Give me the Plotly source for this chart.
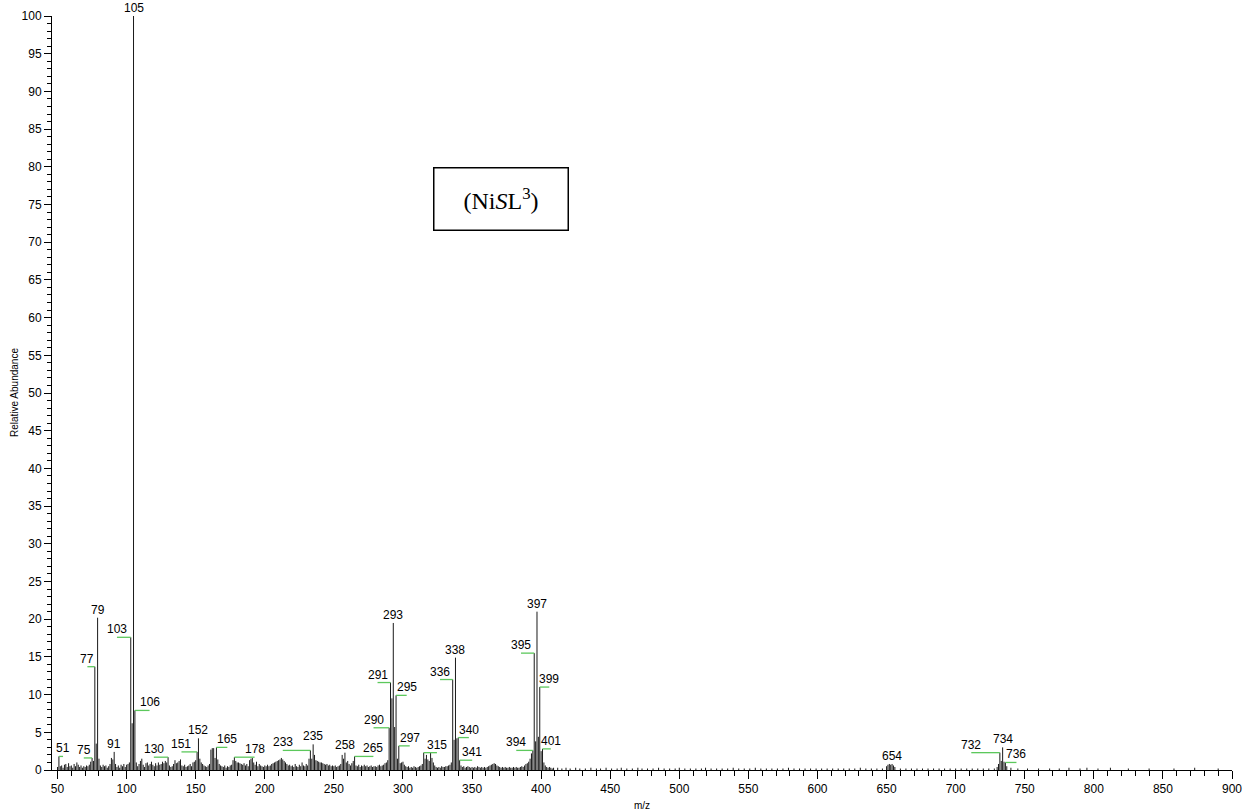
import plotly.graph_objects as go

# ---- spectrum data: m/z and relative abundance (%) ----
mz_low = [
    50, 51, 52, 53, 54, 55, 56, 57, 58, 59,
    60, 61, 62, 63, 64, 65, 66, 67, 68, 69,
    70, 71, 72, 73, 74, 75, 76, 77, 78, 79,
    80, 81, 82, 83, 84, 85, 86, 87, 88, 89,
    90, 91, 92, 93, 94, 95, 96, 97, 98, 99,
    100, 101, 102, 103, 104, 105, 106, 107, 108, 109,
    110, 111, 112, 113, 114, 115, 116, 117, 118, 119,
    120, 121, 122, 123, 124, 125, 126, 127, 128, 129,
    130, 131, 132, 133, 134, 135, 136, 137, 138, 139,
    140, 141, 142, 143, 144, 145, 146, 147, 148, 149,
    150, 151, 152, 153, 154, 155, 156, 157, 158, 159,
    160, 161, 162, 163, 164, 165, 166, 167, 168, 169,
    170, 171, 172, 173, 174, 175, 176, 177, 178, 179,
    180, 181, 182, 183, 184, 185, 186, 187, 188, 189,
    190, 191, 192, 193, 194, 195, 196, 197, 198, 199,
    200, 201, 202, 203, 204, 205, 206, 207, 208, 209,
    210, 211, 212, 213, 214, 215, 216, 217, 218, 219,
    220, 221, 222, 223, 224, 225, 226, 227, 228, 229,
    230, 231, 232, 233, 234, 235, 236, 237, 238, 239,
    240, 241, 242, 243, 244, 245, 246, 247, 248, 249,
    250, 251, 252, 253, 254, 255, 256, 257, 258, 259,
    260, 261, 262, 263, 264, 265, 266, 267, 268, 269,
    270, 271, 272, 273, 274, 275, 276, 277, 278, 279,
    280, 281, 282, 283, 284, 285, 286, 287, 288, 289,
    290, 291, 292, 293, 294, 295, 296, 297, 298, 299,
    300, 301, 302, 303, 304, 305, 306, 307, 308, 309,
    310, 311, 312, 313, 314, 315, 316, 317, 318, 319,
    320, 321, 322, 323, 324, 325, 326, 327, 328, 329,
    330, 331, 332, 333, 334, 335, 336, 337, 338, 339,
    340, 341, 342, 343, 344, 345, 346, 347, 348, 349,
    350, 351, 352, 353, 354, 355, 356, 357, 358, 359,
    360, 361, 362, 363, 364, 365, 366, 367, 368, 369,
    370, 371, 372, 373, 374, 375, 376, 377, 378, 379,
    380, 381, 382, 383, 384, 385, 386, 387, 388, 389,
    390, 391, 392, 393, 394, 395, 396, 397, 398, 399,
    400, 401, 402, 403, 404, 405, 406, 407, 408, 409,
]
ab_low = [
    0.4, 1.8, 0.5, 0.6, 0.3, 0.7, 0.8, 0.4, 0.9, 0.5,
    0.6, 0.3, 0.8, 0.5, 1.0, 0.7, 0.4, 0.6, 0.3, 0.5,
    0.4, 0.6, 0.5, 0.7, 1.1, 1.6, 1.2, 13.7, 3.5, 20.2,
    1.5, 0.6, 0.4, 0.7, 0.5, 0.6, 0.3, 0.5, 0.8, 1.6,
    1.4, 2.4, 0.8, 0.4, 0.6, 0.3, 0.7, 0.5, 0.8, 0.4,
    0.7, 0.8, 1.0, 17.6, 6.2, 100.0, 7.9, 1.0, 0.5, 0.8,
    1.2, 1.5, 0.7, 0.4, 0.9, 1.0, 0.6, 0.8, 1.1, 0.7,
    0.5, 0.9, 0.6, 1.0, 0.7, 0.8, 1.1, 0.9, 1.2, 1.0,
    1.7, 0.6, 0.4, 0.5, 0.8, 1.3, 0.9, 1.0, 1.2, 1.4,
    0.6, 0.5, 0.7, 0.4, 0.5, 0.6, 0.8, 0.5, 1.0, 1.1,
    1.3, 2.4, 4.2, 1.5, 1.0, 0.8, 0.6, 0.5, 0.4, 0.6,
    0.8, 2.7, 2.9, 2.9, 1.6, 3.0, 1.4, 0.8, 0.6, 0.5,
    0.4, 0.6, 0.3, 0.5, 0.4, 0.6, 0.7, 1.3, 1.7, 1.2,
    1.0, 1.0, 0.9, 0.8, 0.7, 0.9, 0.6, 0.8, 0.5, 1.3,
    1.5, 1.6, 1.0, 0.7, 1.1, 0.5, 0.8, 0.6, 0.5, 0.4,
    0.6, 0.5, 0.7, 0.5, 0.6, 0.8, 0.9, 1.0, 1.1, 1.2,
    1.3, 1.4, 1.6, 1.4, 1.2, 1.0, 0.8, 0.6, 0.7, 0.5,
    0.6, 0.4, 0.8, 0.5, 0.4, 0.7, 0.5, 1.0, 0.6, 0.5,
    0.8, 0.6, 1.5, 2.6, 1.5, 3.4, 2.0, 1.3, 1.2, 1.1,
    1.0, 1.0, 0.9, 0.8, 0.7, 0.8, 0.6, 0.7, 0.5, 0.6,
    0.5, 0.6, 0.4, 0.5, 0.6, 0.8, 2.0, 1.5, 2.3, 1.0,
    1.2, 0.8, 0.6, 0.9, 1.2, 1.8, 0.6, 0.5, 0.7, 0.4,
    0.6, 0.5, 0.7, 0.5, 0.6, 0.4, 0.5, 0.6, 0.4, 0.5,
    0.5, 0.4, 0.6, 0.7, 0.5, 0.6, 0.7, 0.9, 1.0, 1.3,
    5.6, 11.6, 9.5, 19.5, 5.7, 9.9, 1.5, 3.2, 0.9, 1.0,
    1.1, 0.7, 0.5, 0.4, 0.5, 0.3, 0.4, 0.3, 0.5, 0.4,
    0.3, 0.4, 0.5, 0.6, 0.8, 2.3, 1.5, 2.0, 1.4, 1.2,
    2.3, 1.6, 1.0, 0.6, 0.4, 0.3, 0.4, 0.3, 0.5, 0.4,
    0.4, 0.5, 0.5, 0.6, 0.7, 1.0, 12.0, 4.0, 14.9, 4.2,
    4.3, 1.3, 0.6, 0.4, 0.5, 0.3, 0.4, 0.5, 0.4, 0.3,
    0.4, 0.3, 0.4, 0.3, 0.5, 0.4, 0.3, 0.4, 0.3, 0.4,
    0.3, 0.4, 0.5, 0.6, 0.7, 0.8, 0.9, 0.8, 0.6, 0.5,
    0.4, 0.3, 0.4, 0.3, 0.4, 0.3, 0.3, 0.4, 0.3, 0.3,
    0.4, 0.3, 0.4, 0.3, 0.3, 0.4, 0.5, 0.4, 0.6, 0.8,
    0.9, 1.1, 1.5, 2.2, 2.6, 15.5, 3.8, 21.0, 4.4, 11.0,
    2.5, 2.8, 1.0, 0.6, 0.4, 0.3, 0.4, 0.3, 0.2, 0.3,
]

mz_high = [
    412, 415, 418, 421, 425, 428, 432, 436, 440, 443, 447, 451, 455, 458,
    462, 466, 470, 473, 477, 481, 485, 489, 493, 497, 500, 504, 508, 512,
    516, 519, 523, 527, 531, 535, 539, 543, 547, 551, 555, 559, 563, 567,
    571, 575, 579, 583, 587, 591, 595, 599, 603, 607, 611, 615, 619, 623,
    627, 631, 635, 639, 643, 647, 650, 651, 652, 653, 654, 655, 656, 660,
    664, 668, 672, 676, 680, 684, 688, 692, 696, 700, 704, 708, 712, 716,
    720, 724, 728, 730, 731, 732, 733, 734, 735, 736, 737, 740, 745, 752,
    760, 768, 775, 782, 790, 795, 803, 812, 825, 840, 858, 873, 890,
]
ab_high = [
    0.3, 0.2, 0.3, 0.2, 0.3, 0.2, 0.2, 0.3, 0.2, 0.2, 0.3, 0.2, 0.2, 0.3,
    0.2, 0.2, 0.3, 0.2, 0.2, 0.2, 0.3, 0.2, 0.2, 0.2, 0.3, 0.2, 0.2, 0.2,
    0.2, 0.3, 0.2, 0.2, 0.2, 0.2, 0.3, 0.2, 0.2, 0.2, 0.3, 0.2, 0.2, 0.2,
    0.2, 0.2, 0.3, 0.2, 0.2, 0.2, 0.2, 0.2, 0.2, 0.2, 0.2, 0.2, 0.2, 0.2,
    0.2, 0.3, 0.2, 0.2, 0.2, 0.2, 0.5, 0.7, 0.8, 0.7, 0.8, 0.6, 0.4, 0.2,
    0.2, 0.2, 0.2, 0.2, 0.2, 0.2, 0.2, 0.2, 0.2, 0.2, 0.2, 0.2, 0.2, 0.2,
    0.2, 0.2, 0.2, 0.4, 0.8, 2.3, 1.2, 3.0, 1.1, 1.0, 0.5, 0.3, 0.2, 0.2,
    0.2, 0.2, 0.2, 0.3, 0.2, 0.3, 0.2, 0.3, 0.2, 0.2, 0.2, 0.3, 0.2,
]

# labelled peaks: m/z, and label offset along m/z (0 = centred above the peak)
label_mz = [51, 75, 77, 79, 91, 103, 105, 106, 130, 151, 152, 165, 178,
            233, 235, 258, 265, 290, 291, 293, 295, 297, 315, 336, 338,
            340, 341, 394, 395, 397, 399, 401, 654, 732, 734, 736]
label_dx = [3, -6, -5.4, 0, 0, -10, 0, 10.6, -10.3, -11.3, 0, 7.9, 14.6,
            -20, 0, 0, 13.6, -11.3, -9.4, 0, 7.7, 7.9, 9.6, -9.2, 0,
            7.7, 9.1, -12, -9.6, 0, 6.9, 6, 0, -20.7, 0, 8]

mz_all = mz_low + mz_high
ab_all = ab_low + ab_high
abund = dict(zip(mz_all, ab_all))

# stems for every centroid
sx, sy = [], []
for m, a in zip(mz_all, ab_all):
    sx += [m, m, None]
    sy += [0, a, None]

fig = go.Figure()
fig.add_trace(go.Scatter(x=sx, y=sy, mode="lines",
                         line=dict(color="#1a1a1a", width=1),
                         hoverinfo="skip", showlegend=False))

# green leader lines for shifted labels
gx, gy = [], []
for m, dx in zip(label_mz, label_dx):
    if dx != 0:
        gx += [m + dx, m, None]
        gy += [abund[m], abund[m], None]
fig.add_trace(go.Scatter(x=gx, y=gy, mode="lines",
                         line=dict(color="#5cc85c", width=1.3),
                         hoverinfo="skip", showlegend=False))

font = "Arial, Liberation Sans, sans-serif"
for m, dx in zip(label_mz, label_dx):
    fig.add_annotation(x=m + dx, y=abund[m], text=str(m), showarrow=False,
                       xanchor="center", yanchor="bottom", yshift=-1,
                       font=dict(family=font, size=12, color="black"))

# compound label box
fig.add_annotation(x=370.8, y=75.7, xref="x", yref="y",
                   text="(Ni<i>S</i>L<sup>3</sup>)", showarrow=False,
                   xanchor="center", yanchor="middle",
                   width=133, height=61, align="center", valign="middle",
                   bordercolor="black", borderwidth=1.5, borderpad=0,
                   bgcolor="white",
                   font=dict(family="Liberation Serif, Times New Roman, serif",
                             size=24, color="black"))

# axis titles
fig.add_annotation(x=0.5, y=0, xref="paper", yref="paper", yshift=-35,
                   text="m/z", showarrow=False, xanchor="center",
                   yanchor="middle",
                   font=dict(family=font, size=10, color="black"))
fig.add_annotation(x=0, y=0.5, xref="paper", yref="paper", xshift=-38,
                   text="Relative Abundance", showarrow=False,
                   textangle=-90, xanchor="center", yanchor="middle",
                   font=dict(family=font, size=10, color="black"))

fig.update_layout(
    width=1253, height=812,
    margin=dict(l=52, r=21, t=16, b=42, autoexpand=False),
    paper_bgcolor="white", plot_bgcolor="white",
    font=dict(family=font, size=12, color="black"),
    showlegend=False,
    xaxis=dict(range=[46, 900], tick0=0, dtick=50, ticks="outside",
               ticklen=8, tickwidth=1, tickcolor="black",
               showline=True, linecolor="black", linewidth=1,
               showgrid=False, zeroline=False, automargin=False,
               tickfont=dict(size=12),
               minor=dict(dtick=10, ticks="outside", ticklen=5,
                          tickcolor="black", showgrid=False)),
    yaxis=dict(range=[0, 100], tick0=0, dtick=5, ticks="outside",
               ticklen=7, tickwidth=1, tickcolor="black",
               showline=True, linecolor="black", linewidth=1,
               showgrid=False, zeroline=False, automargin=False,
               tickfont=dict(size=12),
               minor=dict(dtick=1, ticks="outside", ticklen=4,
                          tickcolor="black", showgrid=False)),
)

fig.write_html("out.html")
